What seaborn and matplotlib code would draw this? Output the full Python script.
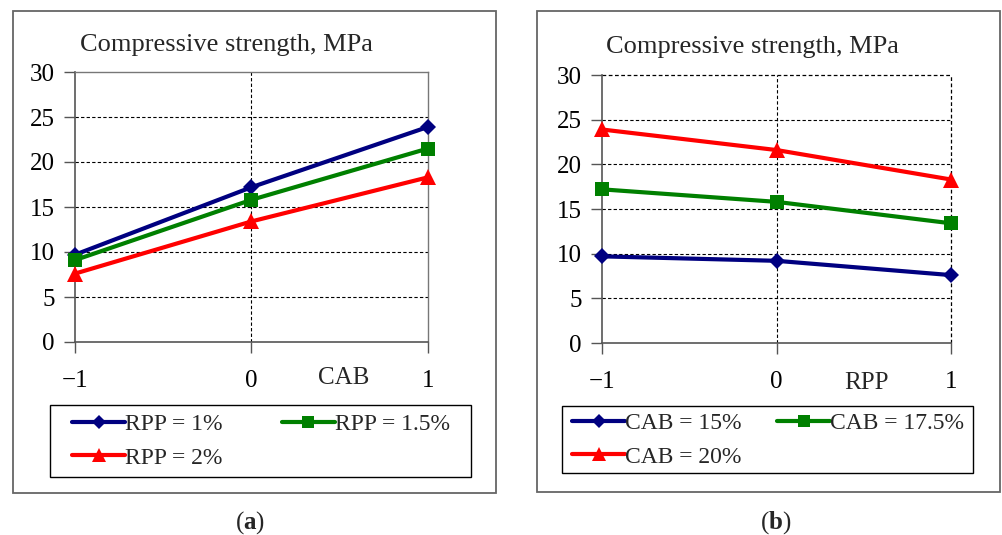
import matplotlib
matplotlib.use("Agg")
import matplotlib.pyplot as plt
import seaborn as sns
import pandas as pd
from matplotlib.patches import Rectangle
from matplotlib.lines import Line2D

sns.set_theme(style="white")
plt.rcParams['font.family'] = ['Liberation Serif', 'DejaVu Serif']
plt.rcParams['mathtext.fontset'] = 'custom'
plt.rcParams['mathtext.rm'] = 'Liberation Serif'
plt.rcParams['mathtext.bf'] = 'Liberation Serif:bold'

# ---- data ----
levels = [-1, 0, 1]
a_labels = ["RPP = 1%", "RPP = 1.5%", "RPP = 2%"]
a_rpp1 = [9.7, 17.2, 23.9]
a_rpp15 = [9.1, 15.8, 21.5]
a_rpp2 = [7.6, 13.4, 18.3]

b_labels = ["CAB = 15%", "CAB = 17.5%", "CAB = 20%"]
b_cab15 = [9.7, 9.2, 7.6]
b_cab175 = [17.2, 15.8, 13.4]
b_cab20 = [23.9, 21.6, 18.3]

yticks = [0, 5, 10, 15, 20, 25, 30]
title_text = "Compressive strength, MPa"

colors = ["#000080", "#008000", "#FF0000"]
markers = ["D", "s", "^"]
msizes = [8, 10, 11]


def make_df(labels, series):
    rows = []
    for lab, vals in zip(labels, series):
        for x, v in zip(levels, vals):
            rows.append({"x": x, "y": v, "series": lab})
    return pd.DataFrame(rows)


W, H = 1002, 535
fig = plt.figure(figsize=(W / 100, H / 100), dpi=100)


def fx(px):
    return px / W


def fy(py):
    return 1 - py / H


def panel(rect_px, box_px, leg_px, leg_start, colspace, title_xy, labels, series,
          xlab, xlab_xy, tag, tag_x, dashed_frame):
    l, t, r, b = rect_px
    ax = fig.add_axes([fx(l), fy(b), fx(r - l), fy(t) - fy(b)])
    df = make_df(labels, series)
    for i, lab in enumerate(labels):
        sub = df[df["series"] == lab]
        sns.lineplot(data=sub, x="x", y="y", ax=ax, color=colors[i], marker=markers[i],
                     markersize=msizes[i], markeredgewidth=0, linewidth=3.0, zorder=3,
                     legend=False, clip_on=False)
    ax.set_xlim(-1, 1)
    ax.set_ylim(0, 30)
    ax.set_xticks(levels)
    ax.set_xticklabels(["\u22121", "0", "1"])
    ax.set_yticks(yticks)
    ax.set_xlabel("")
    ax.set_ylabel("")
    ax.tick_params(axis="both", which="both", direction="out", length=8, width=1.0,
                   color="#555555", labelsize=18, left=True, bottom=True, labelcolor="black")
    ax.tick_params(axis="y", pad=6.5)
    ax.tick_params(axis="x", pad=12)
    for yv in yticks[1:-1]:
        ax.axhline(yv, color="black", linestyle=(0, (3, 2)), linewidth=0.8, zorder=1)
    ax.axvline(0, color="black", linestyle=(0, (3, 2)), linewidth=0.8, zorder=1)
    for s in ["left", "bottom"]:
        ax.spines[s].set_color("#555555")
        ax.spines[s].set_linewidth(1.2)
    if dashed_frame:
        ax.spines["top"].set_visible(False)
        ax.spines["right"].set_visible(False)
        ax.axhline(30, color="black", linestyle=(0, (3, 2)), linewidth=0.9, zorder=1, clip_on=False)
        ax.axvline(1, color="black", linestyle=(0, (3, 2)), linewidth=0.9, zorder=1, clip_on=False)
    else:
        for s in ["top", "right"]:
            ax.spines[s].set_color("#777777")
            ax.spines[s].set_linewidth(1.0)
    ax.set_facecolor("white")

    # outer frame
    bl, bt, br, bb = box_px
    fig.patches.append(Rectangle((fx(bl), fy(bb)), fx(br - bl), fy(bt) - fy(bb),
                                 transform=fig.transFigure, fill=False,
                                 edgecolor="#666666", linewidth=1.3, zorder=0))
    # title
    fig.text(fx(title_xy[0]), fy(title_xy[1]), title_text, fontsize=19,
             ha="left", va="center")
    # axis label
    fig.text(fx(xlab_xy[0]), fy(xlab_xy[1]), xlab, fontsize=18, ha="center", va="center")
    # legend box
    ll, lt, lr, lb = leg_px
    fig.patches.append(Rectangle((fx(ll), fy(lb)), fx(lr - ll), fy(lt) - fy(lb),
                                 transform=fig.transFigure, fill=False,
                                 edgecolor="black", linewidth=1.0, zorder=0))
    # legend (column-first fill -> reorder so rows read 1st, 2nd / 3rd)
    handles = [Line2D([], [], color=colors[i], marker=markers[i], markersize=msizes[i] - 1,
                      markeredgewidth=0, linewidth=3.0) for i in range(3)]
    order = [0, 2, 1]
    fig.legend([handles[i] for i in order], [labels[i] for i in order], ncol=2,
               loc="center left",
               bbox_to_anchor=(fx(leg_start[0]), fy(leg_start[1])),
               fontsize=17, frameon=False, handlelength=2.25, handletextpad=0.0,
               columnspacing=colspace, borderaxespad=0.0, borderpad=0.0,
               labelspacing=0.52)
    # panel tag
    fig.text(fx(tag_x), fy(523), "($\\mathbf{" + tag + "}$)", fontsize=18, ha="center", va="center")
    return ax


panel((75, 72, 428, 342), (13, 11, 496, 493), (50, 405, 471, 477), (72, 441), 2.5, (80, 45),
      a_labels, [a_rpp1, a_rpp15, a_rpp2], "CAB", (344, 378), "a", 250, False)
panel((602, 75, 951, 343), (537, 11, 1000, 492), (562, 406, 973, 473), (572, 440), 1.5, (606, 47),
      b_labels, [b_cab15, b_cab175, b_cab20], "RPP", (866, 383), "b", 776, True)

fig.savefig("out.png", dpi=100, facecolor="white")
